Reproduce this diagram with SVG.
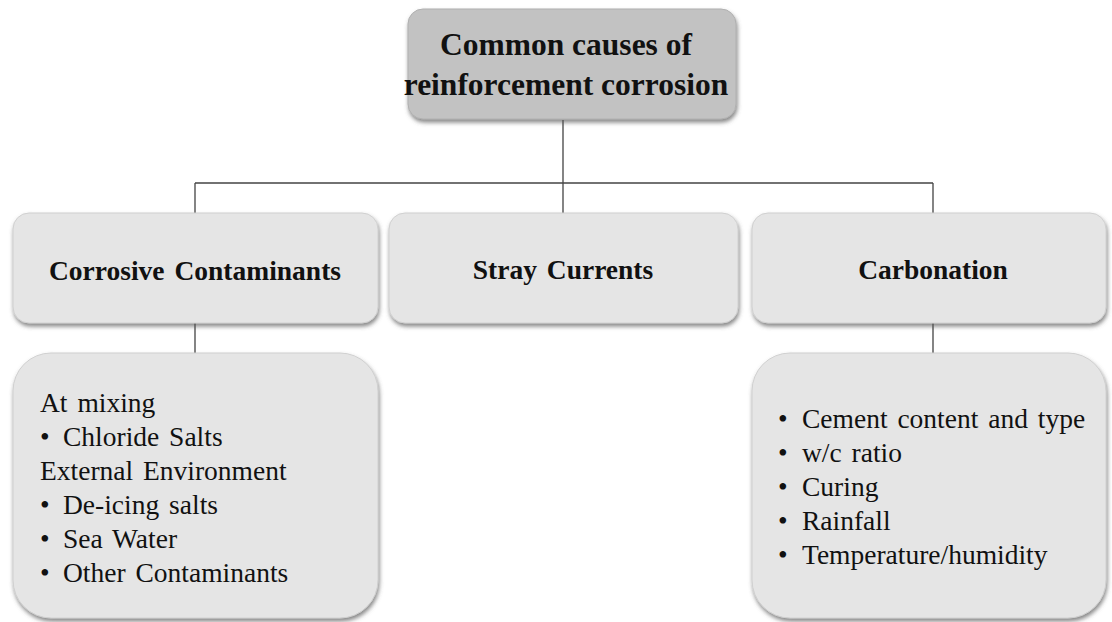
<svg xmlns="http://www.w3.org/2000/svg" width="1112" height="622" viewBox="0 0 1112 622">
<defs>
<filter id="sh" x="-10%" y="-10%" width="120%" height="130%">
<feDropShadow dx="1" dy="3" stdDeviation="2" flood-color="#555" flood-opacity="0.7"/>
</filter>
</defs>
<style>
.box{fill:#e5e5e5;stroke:#d0d0d0;stroke-width:1;filter:url(#sh)}
.top{fill:#c2c2c2;stroke:#b0b0b0;stroke-width:1;filter:url(#sh)}
.h{font-family:"Liberation Serif",serif;font-weight:bold;fill:#111;text-anchor:middle}
.t{font-family:"Liberation Serif",serif;font-size:27.5px;fill:#111;word-spacing:3px}
.ln{stroke:#444;stroke-width:1.3;fill:none}
</style>
<rect width="1112" height="622" fill="#fff"/>
<g id="connectors">
<path class="ln" d="M563 120 V213 M195 183 H933 M195 183 V213 M933 183 V213 M195 323 V353 M933 323 V353"/>
</g>
<g id="root">
<rect class="top" x="408" y="9" width="328" height="110" rx="15"/>
<text class="h" font-size="31.5" x="566" y="55">Common causes of</text>
<text class="h" font-size="31.5" x="566" y="95">reinforcement corrosion</text>
</g>
<g id="corrosive">
<rect class="box" x="13" y="213" width="365" height="110" rx="16"/>
<text class="h" font-size="27.5" x="195" y="280" style="word-spacing:3px">Corrosive Contaminants</text>
</g>
<g id="stray">
<rect class="box" x="389" y="213" width="349" height="110" rx="16"/>
<text class="h" font-size="27.5" x="563" y="279" style="word-spacing:3px">Stray Currents</text>
</g>
<g id="carbonation">
<rect class="box" x="752" y="213" width="354" height="110" rx="16"/>
<text class="h" font-size="27.5" x="933" y="279">Carbonation</text>
</g>
<g id="contaminants-list">
<rect class="box" x="13" y="353" width="365" height="265" rx="38"/>
<text class="t" x="40" y="412">At mixing</text>
<text class="t" x="40" y="446">•</text><text class="t" x="63" y="446">Chloride Salts</text>
<text class="t" x="40" y="480">External Environment</text>
<text class="t" x="40" y="514">•</text><text class="t" x="63" y="514">De-icing salts</text>
<text class="t" x="40" y="548">•</text><text class="t" x="63" y="548">Sea Water</text>
<text class="t" x="40" y="582">•</text><text class="t" x="63" y="582">Other Contaminants</text>
</g>
<g id="carbonation-list">
<rect class="box" x="752" y="353" width="354" height="265" rx="38"/>
<text class="t" x="778" y="428">•</text><text class="t" x="802" y="428">Cement content and type</text>
<text class="t" x="778" y="462">•</text><text class="t" x="802" y="462">w/c ratio</text>
<text class="t" x="778" y="496">•</text><text class="t" x="802" y="496">Curing</text>
<text class="t" x="778" y="530">•</text><text class="t" x="802" y="530">Rainfall</text>
<text class="t" x="778" y="564">•</text><text class="t" x="802" y="564">Temperature/humidity</text>
</g>
</svg>
